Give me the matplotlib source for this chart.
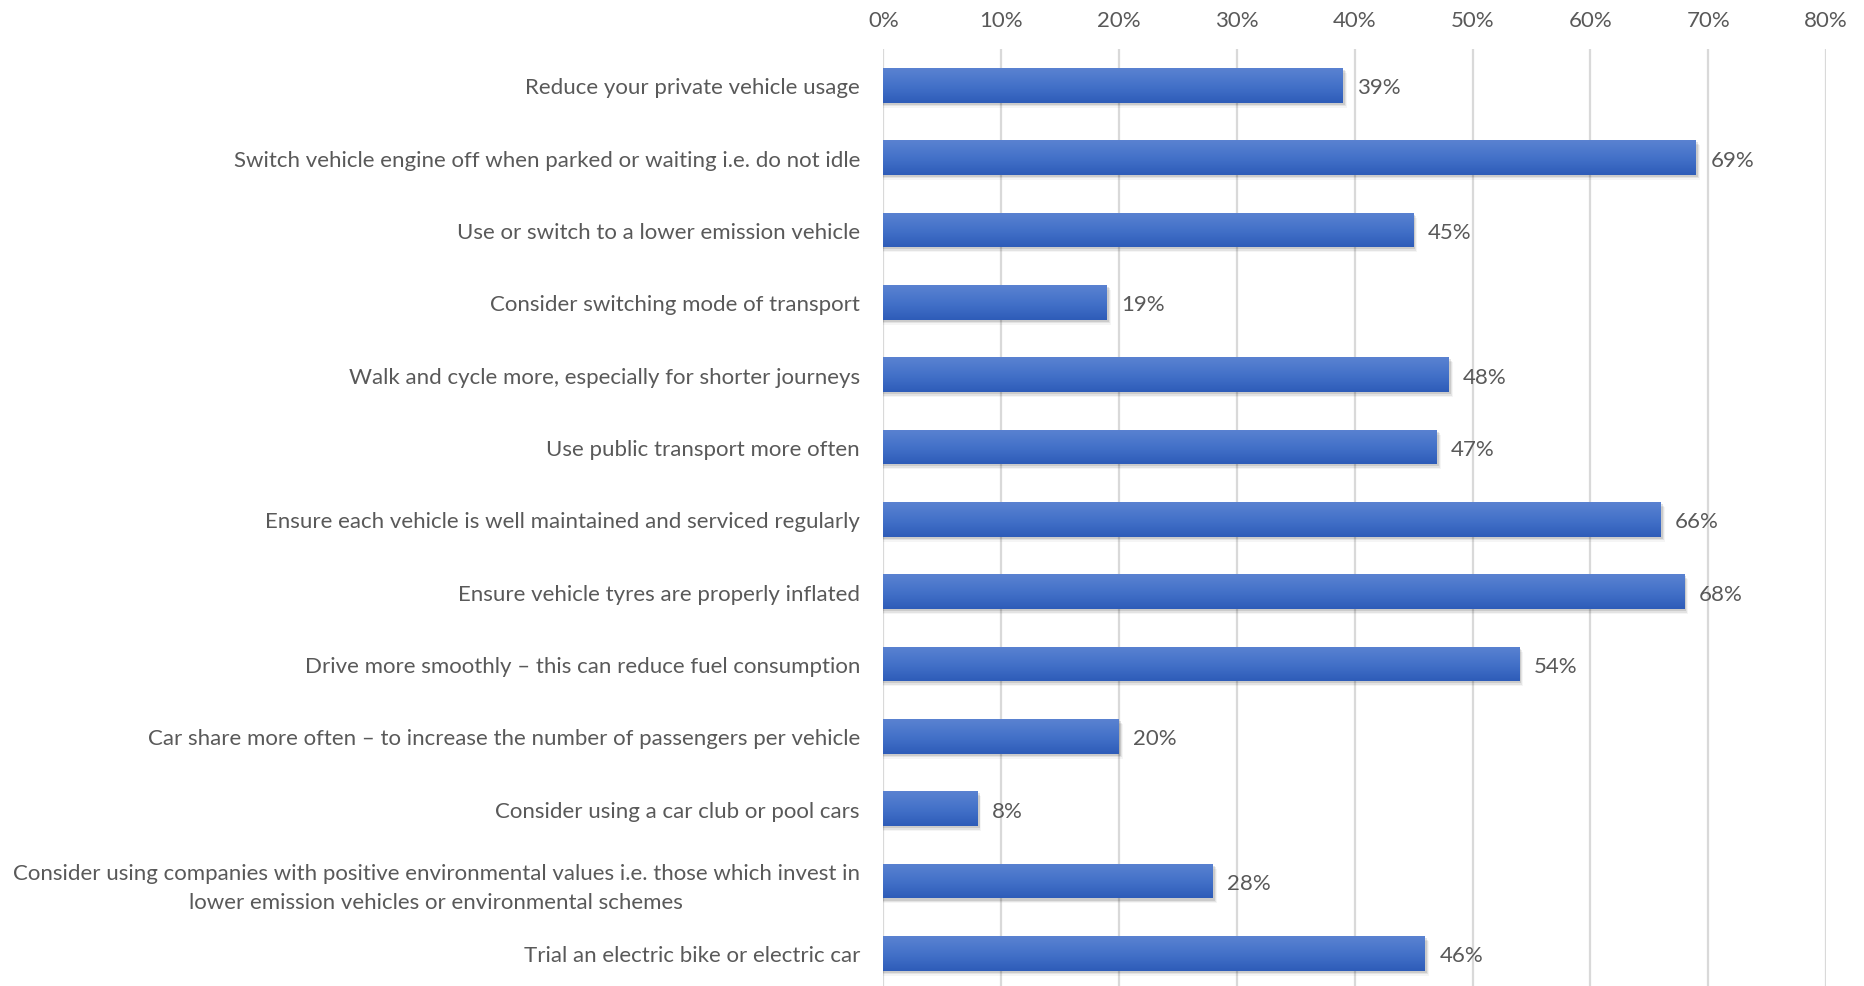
import numpy as np
import matplotlib
matplotlib.use("Agg")
import matplotlib.pyplot as plt
from matplotlib.colors import LinearSegmentedColormap
from matplotlib.ticker import FuncFormatter

categories = [
    "Reduce your private vehicle usage",
    "Switch vehicle engine off when parked or waiting i.e. do not idle",
    "Use or switch to a lower emission vehicle",
    "Consider switching mode of transport",
    "Walk and cycle more, especially for shorter journeys",
    "Use public transport more often",
    "Ensure each vehicle is well maintained and serviced regularly",
    "Ensure vehicle tyres are properly inflated",
    "Drive more smoothly \u2013 this can reduce fuel consumption",
    "Car share more often \u2013 to increase the number of passengers per vehicle",
    "Consider using a car club or pool cars",
    "Consider using companies with positive environmental values i.e. those which invest in\nlower emission vehicles or environmental schemes",
    "Trial an electric bike or electric car",
]
values = [39, 69, 45, 19, 48, 47, 66, 68, 54, 20, 8, 28, 46]
x_ticks = [0, 10, 20, 30, 40, 50, 60, 70, 80]

TEXT = "#595959"
GRID = "#d9d9d9"
FONT = "Lato"
FS = 16.0

plt.rcParams["font.family"] = [FONT, "DejaVu Sans"]

fig = plt.figure(figsize=(18.65, 9.87), dpi=100)
W, H = 1865, 987
left, right = 883.5 / W, 1826 / W
top, bottom = 1 - 50 / H, 1 - 990.5 / H
ax = fig.add_axes([left, bottom, right - left, top - bottom])

y = np.arange(len(categories))
bar_h = 0.48

# soft drop shadow under each bar
for yi, v in zip(y, values):
    for k, a in enumerate([0.10, 0.07, 0.04]):
        off = 0.03 + k * 0.02
        ax.barh(yi + off, v + 0.15 + k * 0.08, height=bar_h, left=0,
                color="black", alpha=a, zorder=2, linewidth=0)

bars = ax.barh(y, values, height=bar_h, color="#4472c4", zorder=3, linewidth=0)

# vertical gradient fill (lighter top, darker bottom)
cmap = LinearSegmentedColormap.from_list("bluegrad", ["#5a82d1", "#4472c9", "#2e5cb8"])
grad = np.linspace(0, 1, 64).reshape(-1, 1)
for b in bars:
    x0, y0 = b.get_x(), b.get_y()
    w, h = b.get_width(), b.get_height()
    im = ax.imshow(grad, cmap=cmap, aspect="auto", extent=[x0, x0 + w, y0 + h, y0],
                   origin="upper", zorder=4, interpolation="bicubic")
    im.set_clip_path(b)

for yi, v in zip(y, values):
    ax.annotate(f"{v}%", xy=(v, yi), xytext=(10, -1.5), textcoords="offset points",
                va="center", ha="left", fontsize=FS, color=TEXT, zorder=5)

ax.set_xlim(0, 80)
ax.set_ylim(len(categories) - 0.5, -0.5)
ax.set_xticks(x_ticks)
ax.xaxis.set_major_formatter(FuncFormatter(lambda v, p: f"{v:.0f}%"))
ax.xaxis.tick_top()
ax.tick_params(axis="x", length=0, pad=14, labelsize=FS, labelcolor=TEXT)
ax.set_yticks(y)
ax.set_yticklabels(categories)
ax.tick_params(axis="y", length=0, pad=17, labelsize=FS, labelcolor=TEXT)
for lbl in ax.get_yticklabels():
    lbl.set_multialignment("center")
    lbl.set_linespacing(1.55)

ax.grid(axis="x", color=GRID, linewidth=1.6, zorder=0)
ax.set_axisbelow(True)
for s in ax.spines.values():
    s.set_visible(False)

fig.savefig("out.png", dpi=100, facecolor="white")
